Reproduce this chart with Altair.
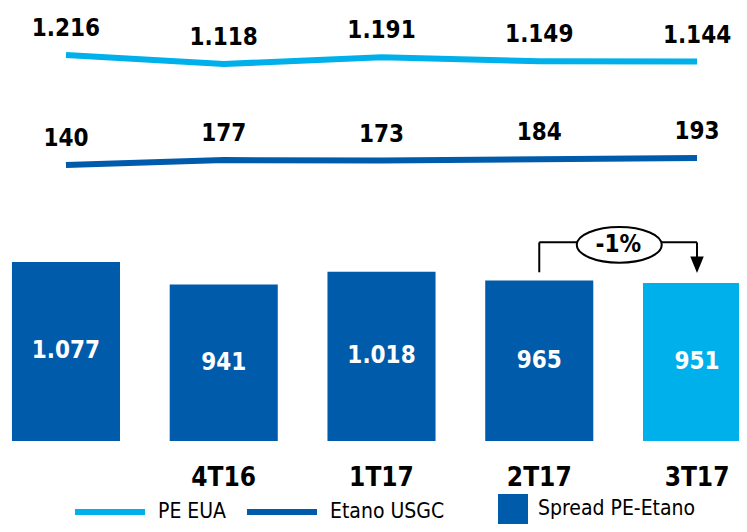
import altair as alt
import pandas as pd

categories = [" ", "4T16", "1T17", "2T17", "3T17"]
pe_eua = [1216, 1118, 1191, 1149, 1144]
etano_usgc = [140, 177, 173, 184, 193]
spread = [1077, 941, 1018, 965, 951]
highlight = [False, False, False, False, True]
series_names = ["PE EUA", "Etano USGC"]
bar_name = "Spread PE-Etano"
change_label = ["-1%"]
change_from = ["2T17"]
change_to = ["3T17"]
ann_top = [1195]
ann_left_bottom = [1015]
ann_arrow = [1060]
ann_mid = [1180]

LIGHT = "#00B0EA"
DARK = "#005BAA"
FONT = "DejaVu Sans Condensed, DejaVu Sans"

bars_df = pd.DataFrame({"cat": categories, "spread": spread, "hl": highlight,
                        "series": [bar_name] * len(categories)})
lines_df = pd.DataFrame({
    "cat": categories * 2,
    "series": [series_names[0]] * 5 + [series_names[1]] * 5,
    "value": pe_eua + etano_usgc,
})
ann_df = pd.DataFrame({"x1": change_from, "x2": change_to, "top": ann_top,
                       "lb": ann_left_bottom, "arrow": ann_arrow, "mid": ann_mid,
                       "label": change_label})

x_scale = alt.Scale(domain=categories, range=[0, 747], paddingInner=0.315, paddingOuter=0.025)
x_axis = alt.Axis(title=None, ticks=False, domain=False, labelFont=FONT, labelFontSize=26,
                  labelFontWeight="bold", labelColor="black", labelPadding=23, labelAngle=0)
spread_scale = alt.Scale(domain=[0, 2605], nice=False, zero=False)
pe_scale = alt.Scale(domain=[-2989, 1728], nice=False, zero=False)
et_scale = alt.Scale(domain=[-1951, 1329], nice=False, zero=False)

fmt = "replace(format(datum.value, ','), ',', '.')"

bar_legend = alt.Legend(orient="none", legendX=490, legendY=486, title=None, padding=0,
                        symbolType="square", symbolSize=900, symbolStrokeWidth=0,
                        labelFont=FONT, labelFontSize=21, labelColor="black", labelOffset=10)
line_legend = alt.Legend(orient="none", legendX=64, legendY=466, title=None, padding=0,
                         direction="horizontal", symbolType="stroke", symbolSize=4900,
                         symbolStrokeWidth=6, columnPadding=8,
                         labelFont=FONT, labelFontSize=21, labelColor="black", labelOffset=10)

xb = alt.X("cat:N", scale=x_scale, axis=x_axis)

bars = alt.Chart(bars_df).mark_bar().encode(
    x=xb,
    y=alt.Y("spread:Q", scale=spread_scale, axis=None),
    fill=alt.condition("datum.hl", alt.value(LIGHT),
                       alt.Fill("series:N", scale=alt.Scale(domain=[bar_name], range=[DARK]),
                                legend=bar_legend)),
)
bar_text = alt.Chart(bars_df).transform_calculate(
    mid="datum.spread / 2", value="datum.spread"
).transform_calculate(lab=fmt).mark_text(
    font=FONT, fontSize=24, fontWeight="bold", color="white", baseline="middle"
).encode(x=xb, y=alt.Y("mid:Q", scale=spread_scale, axis=None), text="lab:N")

line_stroke = alt.Stroke("series:N", scale=alt.Scale(domain=series_names, range=[LIGHT, DARK]),
                         legend=line_legend)


def line_layers(name, scale):
    base = alt.Chart(lines_df).transform_filter(alt.datum.series == name)
    ln = base.mark_line(strokeWidth=6).encode(
        x=xb, y=alt.Y("value:Q", scale=scale, axis=None), stroke=line_stroke)
    tx = base.transform_calculate(lab=fmt).mark_text(
        font=FONT, fontSize=24, fontWeight="bold", color="black", baseline="middle", dy=-26
    ).encode(x=xb, y=alt.Y("value:Q", scale=scale, axis=None), text="lab:N")
    return [ln, tx]


ann = alt.Chart(ann_df)
ax1 = alt.X("x1:N", scale=x_scale, axis=x_axis)
ax2 = alt.X("x2:N", scale=x_scale, axis=x_axis)
hline = ann.mark_rule(color="black", strokeWidth=2).encode(
    x=ax1, x2="x2:N", y=alt.Y("top:Q", scale=spread_scale, axis=None))
lvline = ann.mark_rule(color="black", strokeWidth=2).encode(
    x=ax1, y=alt.Y("top:Q", scale=spread_scale, axis=None), y2="lb:Q")
rvline = ann.mark_rule(color="black", strokeWidth=2).encode(
    x=ax2, y=alt.Y("top:Q", scale=spread_scale, axis=None), y2="arrow:Q")
arrow = ann.mark_point(shape="M -0.45 -0.55 L 0.45 -0.55 L 0 0.55 Z", size=900, filled=True,
                       color="black", opacity=1).encode(
    x=ax2, y=alt.Y("arrow:Q", scale=spread_scale, axis=None))
ellipse = ann.mark_point(
    shape="M -1 0 A 1 0.42 0 1 1 1 0 A 1 0.42 0 1 1 -1 0 Z", size=7225, filled=True,
    fill="white", stroke="black", strokeWidth=2, opacity=1, xOffset=80).encode(
    x=ax1, y=alt.Y("mid:Q", scale=spread_scale, axis=None))
ann_text = ann.mark_text(font=FONT, fontSize=24, fontWeight="bold", color="black",
                         baseline="middle", xOffset=79).encode(
    x=ax1, y=alt.Y("mid:Q", scale=spread_scale, axis=None), text="label:N")

chart = alt.layer(
    bars, bar_text,
    *line_layers(series_names[0], pe_scale),
    *line_layers(series_names[1], et_scale),
    hline, lvline, rvline, arrow, ellipse, ann_text,
).resolve_scale(y="independent").properties(
    width=731, height=433,
    autosize=alt.AutoSizeParams(type="none"),
    padding={"left": 0, "top": 0, "right": 0, "bottom": 83},
).configure_view(stroke=None)

chart.save("out.html", embed_options={"renderer": "svg", "actions": False})
